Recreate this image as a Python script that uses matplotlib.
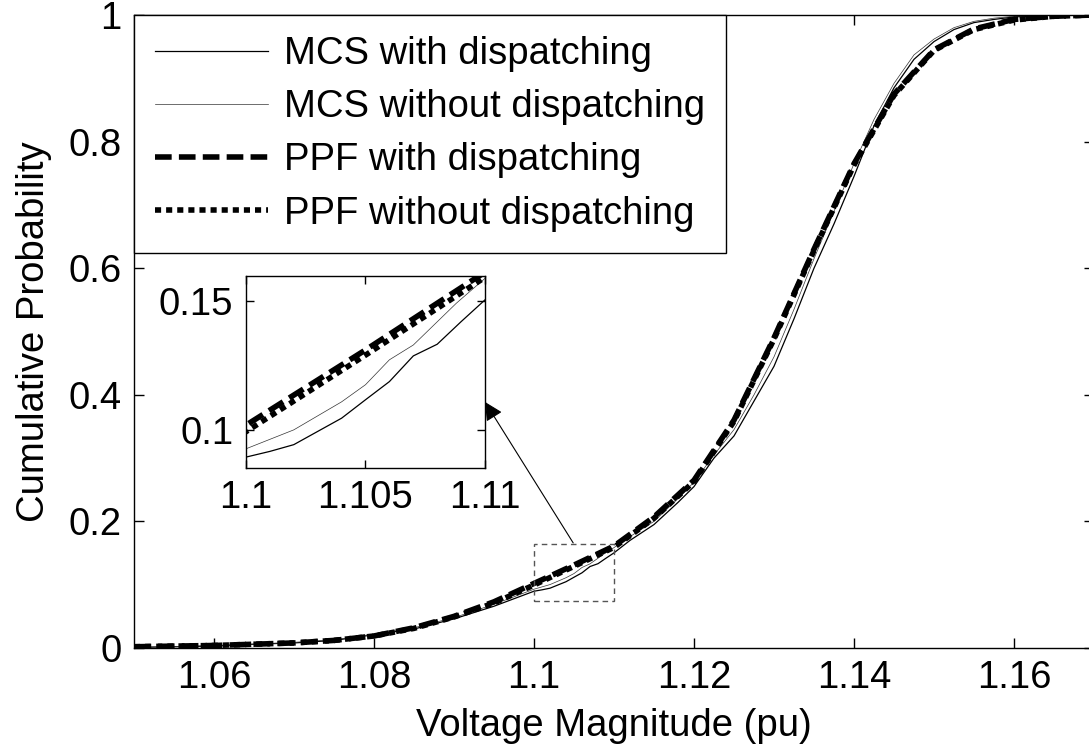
import matplotlib
matplotlib.use("Agg")
import matplotlib.pyplot as plt
from matplotlib.patches import Rectangle

plt.rcParams['font.family'] = ['Liberation Sans', 'DejaVu Sans']
FS = 27.5

# ---- data ----
ppf_with_x = [1.050, 1.055, 1.060, 1.065, 1.070, 1.075, 1.080, 1.085, 1.090, 1.095,
              1.100, 1.105, 1.110, 1.115, 1.120, 1.125, 1.130, 1.135, 1.140, 1.145,
              1.150, 1.155, 1.160, 1.165, 1.170]
ppf_with_y = [0.002, 0.003, 0.004, 0.006, 0.008, 0.012, 0.019, 0.032, 0.050, 0.073,
              0.102, 0.131, 0.161, 0.207, 0.265, 0.360, 0.490, 0.630, 0.765, 0.875,
              0.945, 0.978, 0.993, 0.998, 1.000]

ppf_without_x = ppf_with_x
ppf_without_y = [0.002, 0.003, 0.004, 0.006, 0.008, 0.012, 0.019, 0.031, 0.049, 0.071,
                 0.0995, 0.129, 0.159, 0.205, 0.263, 0.358, 0.488, 0.628, 0.763, 0.873,
                 0.944, 0.977, 0.992, 0.998, 1.000]

mcs_with_x = [1.050, 1.055, 1.060, 1.063, 1.065, 1.070, 1.075, 1.080, 1.085, 1.090,
              1.095, 1.100, 1.101, 1.102, 1.103, 1.104, 1.105, 1.106, 1.107, 1.108,
              1.109, 1.110, 1.112, 1.115, 1.118, 1.120, 1.1225, 1.125, 1.1275, 1.130,
              1.1325, 1.135, 1.1375, 1.140, 1.1425, 1.145, 1.1475, 1.150, 1.1525, 1.155,
              1.1575, 1.160, 1.165, 1.170]
mcs_with_y = [0.001, 0.002, 0.003, 0.005, 0.006, 0.008, 0.012, 0.021, 0.030, 0.046,
              0.066, 0.0897, 0.0919, 0.0945, 0.0996, 0.1047, 0.1118, 0.1188, 0.1287, 0.1332,
              0.1419, 0.1503, 0.170, 0.195, 0.230, 0.255, 0.300, 0.335, 0.390, 0.445,
              0.520, 0.600, 0.670, 0.745, 0.825, 0.885, 0.930, 0.958, 0.977, 0.988,
              0.993, 0.997, 1.000, 1.000]

mcs_without_x = [1.050, 1.055, 1.060, 1.065, 1.070, 1.075, 1.080, 1.085, 1.090, 1.095,
                 1.100, 1.102, 1.104, 1.105, 1.106, 1.107, 1.1088, 1.110, 1.112, 1.115,
                 1.118, 1.120, 1.1225, 1.125, 1.1275, 1.130, 1.1325, 1.135, 1.1375, 1.140,
                 1.1425, 1.145, 1.1475, 1.150, 1.1525, 1.155, 1.1575, 1.160, 1.165, 1.170]
mcs_without_y = [0.001, 0.002, 0.004, 0.006, 0.009, 0.013, 0.022, 0.032, 0.048, 0.069,
                 0.0929, 0.1002, 0.1110, 0.1176, 0.1272, 0.1329, 0.1490, 0.1586, 0.176, 0.200,
                 0.236, 0.262, 0.305, 0.345, 0.400, 0.460, 0.535, 0.615, 0.690, 0.765,
                 0.835, 0.892, 0.937, 0.962, 0.980, 0.990, 0.995, 0.998, 1.000, 1.000]

labels = ['MCS with dispatching', 'MCS without dispatching',
          'PPF with dispatching', 'PPF without dispatching']
x_ticks = [1.06, 1.08, 1.10, 1.12, 1.14, 1.16]
x_ticklabels = ['1.06', '1.08', '1.1', '1.12', '1.14', '1.16']
y_ticks = [0, 0.2, 0.4, 0.6, 0.8, 1.0]
y_ticklabels = ['0', '0.2', '0.4', '0.6', '0.8', '1']
in_x_ticks = [1.10, 1.105, 1.11]
in_x_ticklabels = ['1.1', '1.105', '1.11']
in_y_ticks = [0.10, 0.15]
in_y_ticklabels = ['0.1', '0.15']

W, H = 1089, 755
fig = plt.figure(figsize=(W / 100, H / 100), dpi=100)

def px_axes(l, t, r, b):
    return [l / W, 1 - b / H, (r - l) / W, (b - t) / H]

ax = fig.add_axes(px_axes(134, 15, 1094, 648))

def draw(a):
    a.plot(mcs_with_x, mcs_with_y, color='k', lw=0.9, label=labels[0])
    a.plot(mcs_without_x, mcs_without_y, color='#333333', lw=0.5, label=labels[1])
    a.plot(ppf_with_x, ppf_with_y, color='k', lw=4.0, dashes=(3.0, 1.3), label=labels[2])
    a.plot(ppf_without_x, ppf_without_y, color='k', lw=4.0, dashes=(1.1, 0.9), label=labels[3])

draw(ax)
ax.set_xlim(1.05, 1.17)
ax.set_ylim(0, 1)
ax.set_xticks(x_ticks)
ax.set_xticklabels(x_ticklabels)
ax.set_yticks(y_ticks)
ax.set_yticklabels(y_ticklabels)
ax.tick_params(direction='in', top=True, right=True, length=7, width=1,
               labelsize=FS, pad=9)
for s in ax.spines.values():
    s.set_linewidth(1.0)
ax.set_xlabel('Voltage Magnitude (pu)', fontsize=FS, labelpad=8)
ax.set_ylabel('Cumulative Probability', fontsize=FS, labelpad=12)

leg = ax.legend(loc='upper left', bbox_to_anchor=(0, 1), borderaxespad=0,
                fontsize=FS, handlelength=2.95, handletextpad=0.42,
                labelspacing=0.45, borderpad=0.55, fancybox=False,
                framealpha=1, edgecolor='k')
leg.get_frame().set_linewidth(1.0)

# zoom rectangle
ax.add_patch(Rectangle((1.10, 0.075), 0.01, 0.09, fill=False, ls=(0, (4, 3)),
                       lw=1.0, edgecolor='#555555', zorder=5))

# inset
axins = fig.add_axes(px_axes(246, 276, 485, 468))
draw(axins)
axins.set_xlim(1.10, 1.11)
axins.set_ylim(0.0855, 0.1595)
axins.set_xticks(in_x_ticks)
axins.set_xticklabels(in_x_ticklabels)
axins.set_yticks(in_y_ticks)
axins.set_yticklabels(in_y_ticklabels)
axins.tick_params(direction='in', top=True, right=True, length=6, width=1,
                  labelsize=FS, pad=9)
for s in axins.spines.values():
    s.set_linewidth(1.0)

ax.annotate('', xy=(1.0, 0.344), xycoords=axins.transAxes,
            xytext=(1.1049, 0.166), textcoords='data',
            arrowprops=dict(arrowstyle='-|>', mutation_scale=28, lw=0.8,
                            color='k', shrinkA=0, shrinkB=0),
            annotation_clip=False)

fig.savefig('out.png', dpi=100)
